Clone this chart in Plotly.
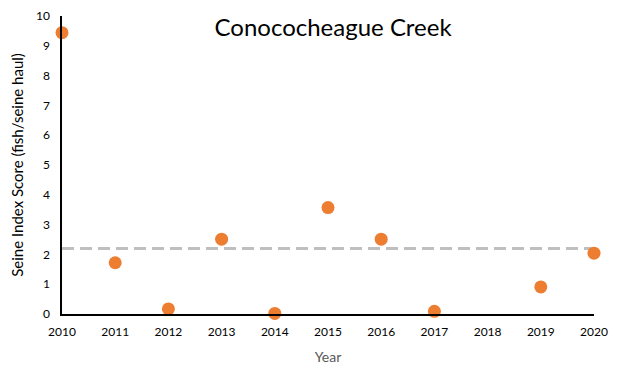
import plotly.graph_objects as go

years = [2010, 2011, 2012, 2013, 2014, 2015, 2016, 2017, 2019, 2020]
scores = [9.44, 1.72, 0.17, 2.51, 0.02, 3.57, 2.51, 0.09, 0.91, 2.04]
avg_years = [2010, 2020]
avg_value = 2.2
x_ticks = list(range(2010, 2021))
y_ticks = list(range(0, 11))

FONT = "Lato, 'Open Sans', sans-serif"

fig = go.Figure()
fig.add_trace(go.Scatter(
    x=avg_years, y=[avg_value, avg_value], mode="lines",
    line=dict(color="#BFBFBF", width=3, dash="12px,6px"),
    hoverinfo="skip", showlegend=False, cliponaxis=False,
))
fig.add_trace(go.Scatter(
    x=years, y=scores, mode="markers",
    marker=dict(color="#ED7D31", size=13, line=dict(width=0)),
    showlegend=False, cliponaxis=False,
))

fig.update_layout(
    width=618, height=367,
    margin=dict(l=54, r=32, t=8, b=61, autoexpand=False),
    paper_bgcolor="white", plot_bgcolor="white",
    font=dict(family=FONT, color="#000000"),
    title=dict(text="Conococheague Creek", x=0.526, xanchor="center",
               y=0.9455, yanchor="middle",
               font=dict(family=FONT, size=24, color="#000000")),
)
fig.update_xaxes(
    range=[2010, 2020], tickvals=x_ticks, ticktext=[str(t) for t in x_ticks],
    showgrid=False, zeroline=False, showline=True, linecolor="#000000", linewidth=1.5,
    ticks="", tickfont=dict(size=12, color="#000000"), ticklabelstandoff=6,
    automargin=False, ticklabeloverflow="allow",
    title=dict(text="Year", font=dict(size=14, color="#595959"), standoff=14),
)
fig.update_yaxes(
    range=[0, 10], tickvals=y_ticks,
    showgrid=False, zeroline=False, showline=True, linecolor="#000000", linewidth=1.5,
    ticks="", tickfont=dict(size=12, color="#000000"), ticklabelstandoff=8,
    automargin=False, ticklabeloverflow="allow",
    title=dict(text="Seine Index Score (fish/seine haul)", font=dict(size=15, color="#000000"), standoff=10),
)

fig.write_html("out.html")
